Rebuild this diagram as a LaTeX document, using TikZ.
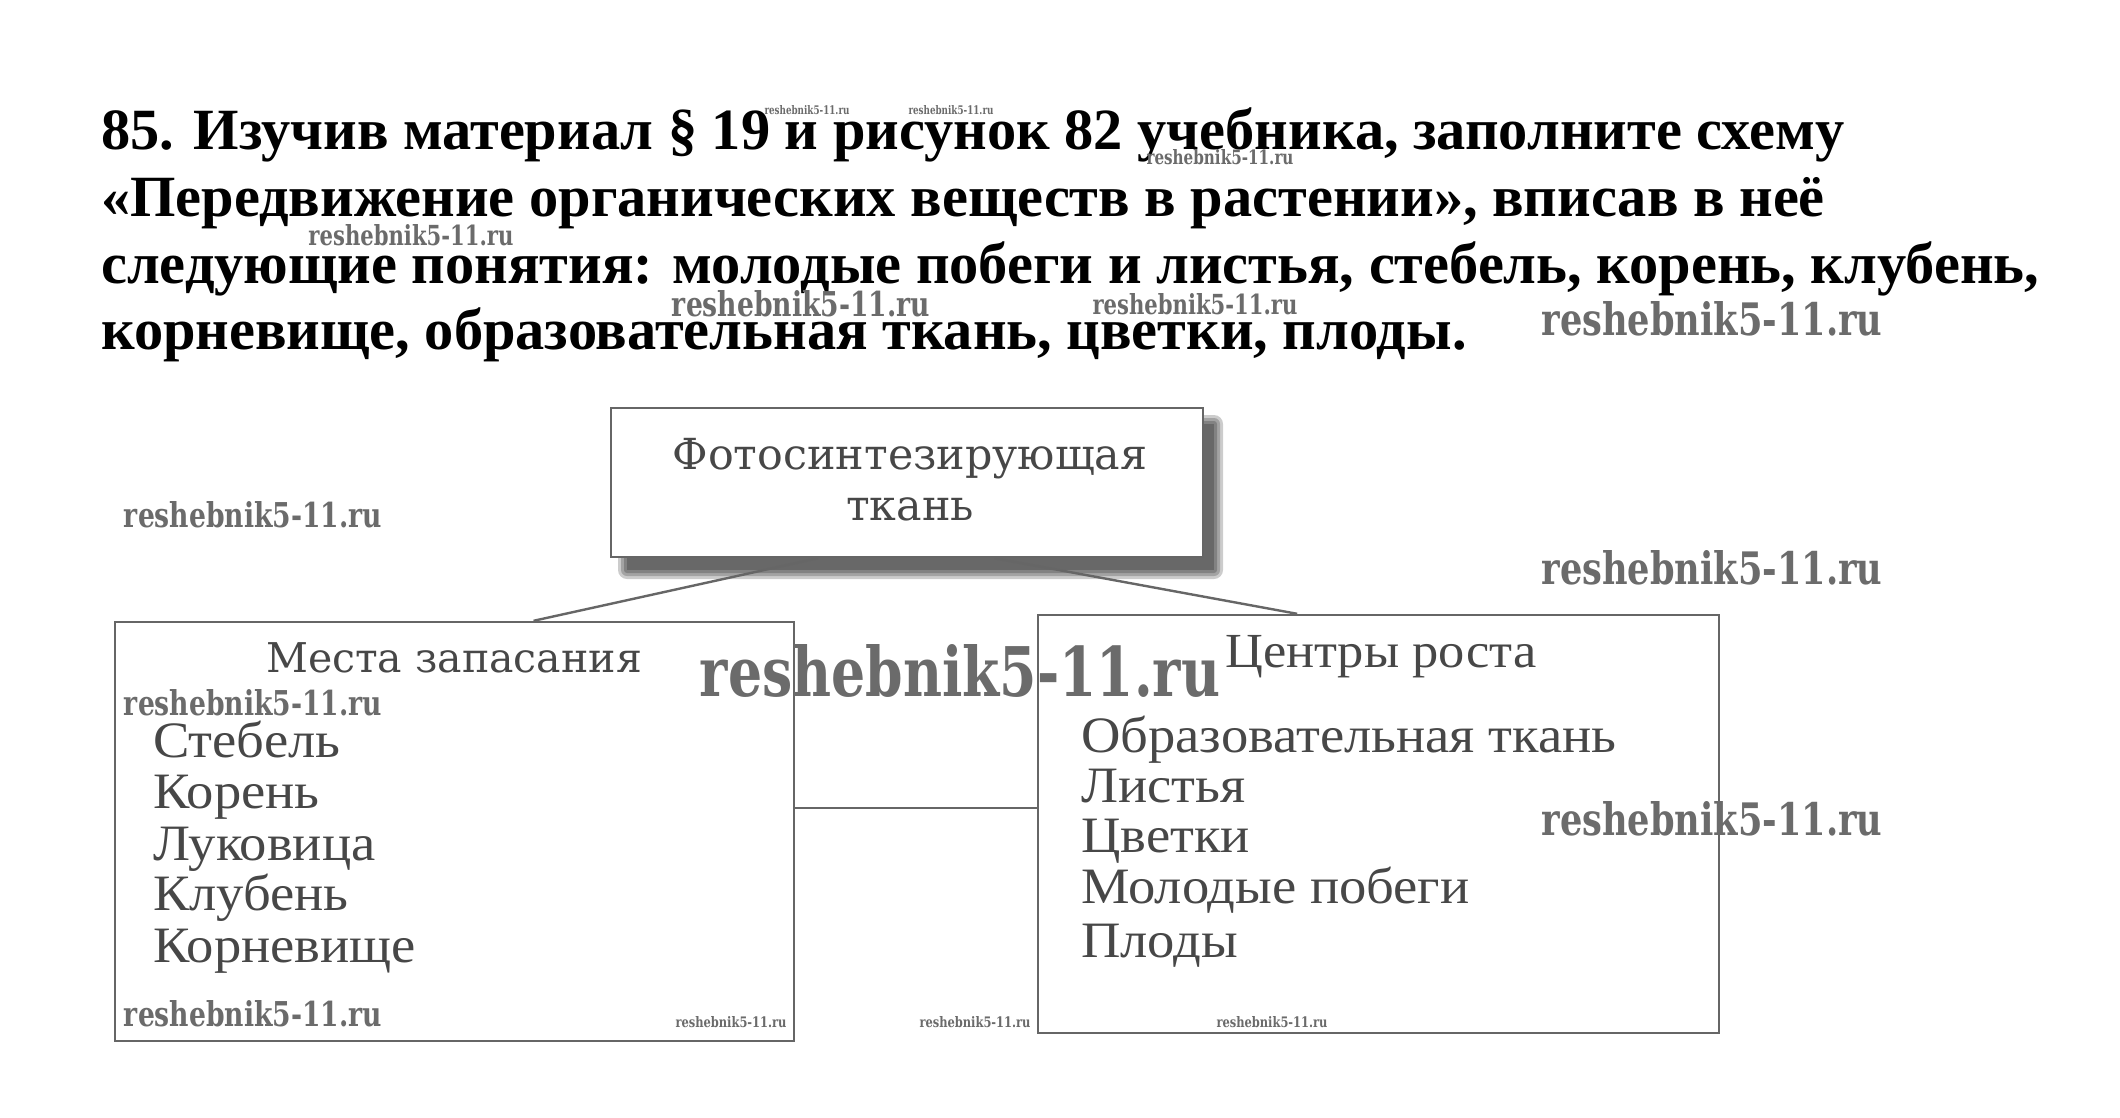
\documentclass[tikz,border=0pt]{standalone}
\usepackage{fontspec}
\usepackage{graphicx}
\setmainfont{Liberation Serif}
\newfontfamily\dvs{DejaVu Serif}
\newfontfamily\widefont[FakeStretch=1.07]{Liberation Serif}
\usetikzlibrary{calc}
\newcommand\wmtext[2]{\resizebox{#1pt}{#2pt}{reshebnik5-11.ru}}
\tikzset{
  box/.style={draw=black!60, line width=2.4pt, fill=white, inner sep=0pt},
  link/.style={draw=black!60, line width=2.4pt},
  ttl/.style={anchor=base west, inner sep=0pt, font=\fontsize{58.4}{60}\selectfont\bfseries, text=black},
  boxtxt/.style={inner sep=0pt, text=black!72},
  item/.style={anchor=base west, inner sep=0pt, text=black!72, font=\widefont\fontsize{51}{52}\selectfont},
  wm/.style={inner sep=0pt, text=black!58, font=\dvs\bfseries}
}
\begin{document}
\begin{tikzpicture}[x=1pt,y=-1pt]
\useasboundingbox[fill=white] (0,0) rectangle (2120,1117);
% title
\node[ttl] (l1) at (101,149) {85. Изучив материал § 19 и рисунок 82 учебника, заполните схему};
\node[ttl] (l2) at (101,216) {«Передвижение органических веществ в растении», вписав в неё};
\node[ttl] (l3) at (101,283) {следующие понятия: молодые побеги и листья, стебель, корень, клубень,};
\node[ttl] (l4) at (101,349) {корневище, образовательная ткань, цветки, плоды.};
% shadow of top box
\foreach \d in {0,3,6,9}{
  \fill[black,opacity=0.2,rounded corners=\d pt] (627-\d,424-\d) rectangle (1214+\d,570+\d);
}
% boxes
\node[box, minimum width=592pt, minimum height=149pt] (top) at (907,482.5) {};
\node[box, minimum width=679pt, minimum height=419pt] (left) at (454.5,831.5) {};
\node[box, minimum width=681pt, minimum height=418pt] (right) at (1378.5,824) {};
% connectors
\draw[link] ($(top.south west)!0.35!(top.south east)$) -- ($(left.north west)!0.616!(left.north east)$);
\draw[link] ($(top.south west)!0.647!(top.south east)$) -- ($(right.north west)!0.381!(right.north east)$);
\coordinate (lm) at ($(left.north east)!0.444!(left.south east)$);
\draw[link] (lm) -- (lm -| right.west);
% top box text
\node[boxtxt, anchor=base, font=\dvs\fontsize{42.8}{44}\selectfont] (t1) at (910,469) {Фотосинтезирующая};
\node[boxtxt, anchor=base, font=\dvs\fontsize{42.8}{44}\selectfont] (t2) at (910,520) {ткань};
% left box
\node[boxtxt, anchor=base, font=\dvs\fontsize{41}{44}\selectfont] (lh) at (454,672) {Места запасания};
\node[item] (a1) at (153,757) {Стебель};
\node[item] (a2) at (153,808) {Корень};
\node[item] (a3) at (153,860) {Луковица};
\node[item] (a4) at (153,910) {Клубень};
\node[item] (a5) at (153,962) {Корневище};
% right box
\node[boxtxt, anchor=base west, font=\widefont\fontsize{49}{50}\selectfont] (rh) at (1225,667) {Центры роста};
\node[item] (b1) at (1081,752) {Образовательная ткань};
\node[item] (b2) at (1081,802) {Листья};
\node[item] (b3) at (1081,852) {Цветки};
\node[item] (b4) at (1081,903) {Молодые побеги};
\node[item] (b5) at (1081,957) {Плоды};
% watermarks
\node[wm] (w1) at (807,110) {\wmtext{85}{9}};
\node[wm] (w2) at (951,110) {\wmtext{85}{9}};
\node[wm] (w3) at (1220,157) {\wmtext{147}{15}};
\node[wm] (w4) at (411,235) {\wmtext{205}{21}};
\node[wm] (w5) at (801,304) {\wmtext{258}{26}};
\node[wm] (w6) at (1195,304) {\wmtext{205}{21}};
\node[wm] (w7) at (1712,319) {\wmtext{341}{34}};
\node[wm] (w8) at (253,515) {\wmtext{258}{26}};
\node[wm] (w9) at (1712,568) {\wmtext{341}{34}};
\node[wm] (w10) at (960,671) {\wmtext{520}{52}};
\node[wm] (w11) at (253,703) {\wmtext{258}{26}};
\node[wm] (w12) at (1712,819) {\wmtext{341}{34}};
\node[wm] (w13) at (253,1014) {\wmtext{258}{26}};
\node[wm] (w14) at (731,1022) {\wmtext{111}{11}};
\node[wm] (w15) at (975,1022) {\wmtext{111}{11}};
\node[wm] (w16) at (1272,1022) {\wmtext{111}{11}};
\end{tikzpicture}
\end{document}
